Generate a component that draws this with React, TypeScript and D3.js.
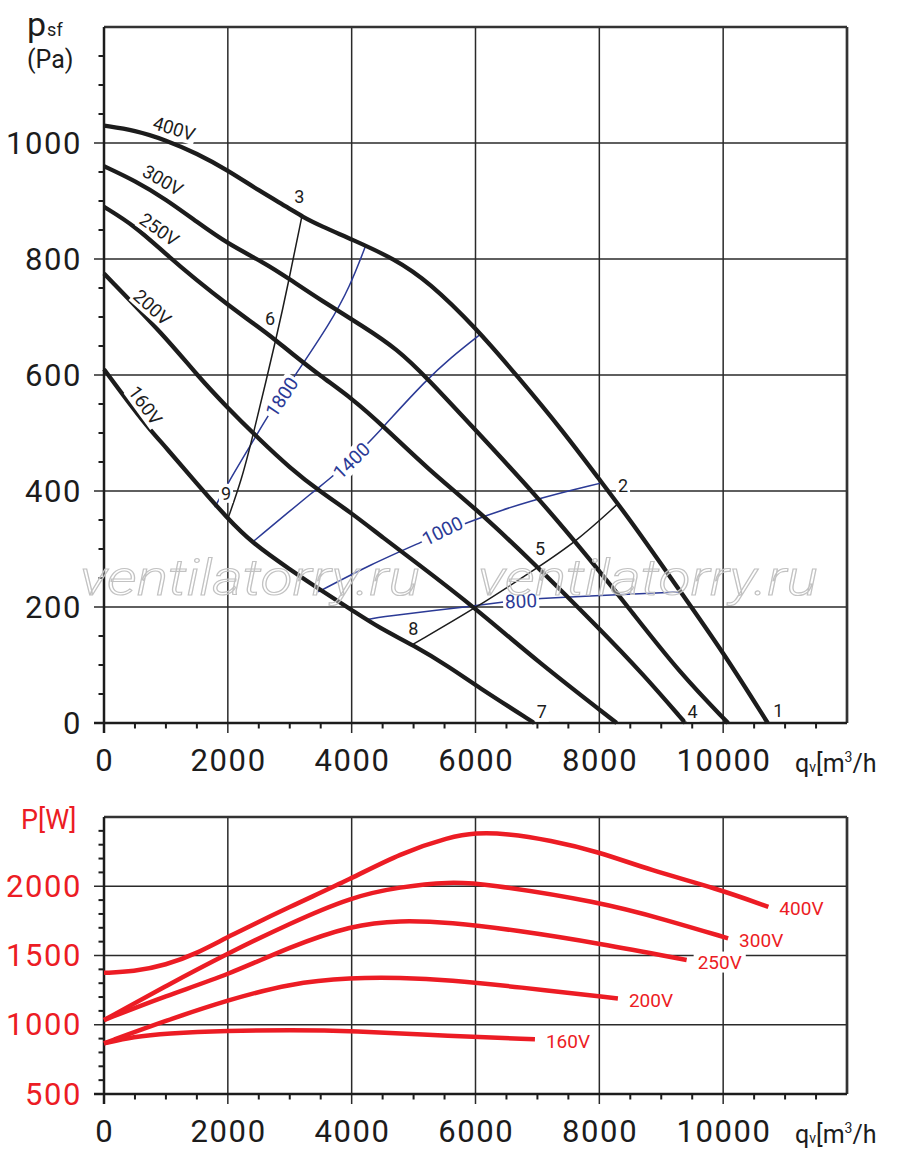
import { useRef, useEffect } from 'react';
import * as d3 from 'd3';

type Pt = [number, number];

// axis ticks
const FLOW_TICKS = [0, 2000, 4000, 6000, 8000, 10000];
const PRESSURE_TICKS = [0, 200, 400, 600, 800, 1000];
const POWER_TICKS = [500, 1000, 1500, 2000];

const VOLTAGES = ['400V', '300V', '250V', '200V', '160V'];

// static pressure psf [Pa] vs flow qv [m3/h]
const psf400: Pt[] = [[0, 1030], [500, 1022], [1000, 1005], [1500, 982], [2000, 953], [2500, 918], [3000, 887], [3200, 873], [3500, 857], [4000, 834], [4700, 800], [5250, 760], [6000, 682], [6700, 595], [7400, 505], [8000, 420], [8500, 350], [9300, 228], [10000, 122], [10720, 0]];
const psf300: Pt[] = [[0, 960], [500, 935], [1000, 903], [1500, 864], [2000, 826], [2600, 793], [3000, 765], [3500, 729], [4200, 683], [4730, 645], [5200, 597], [6000, 505], [7000, 390], [7850, 282], [8500, 195], [9300, 86], [10080, 0]];
const psf250: Pt[] = [[0, 890], [500, 857], [1000, 808], [1500, 763], [2000, 721], [2500, 682], [2750, 662], [3000, 640], [3500, 598], [4000, 560], [4500, 513], [5250, 436], [6000, 370], [6900, 280], [8000, 163], [8700, 85], [9390, 0]];
const psf200: Pt[] = [[0, 775], [1000, 665], [1500, 600], [2000, 543], [2500, 490], [3000, 440], [3500, 398], [4000, 362], [4500, 320], [5000, 280], [6000, 198], [7000, 106], [8280, 0]];
const psf160: Pt[] = [[0, 610], [500, 538], [750, 505], [1000, 475], [1450, 419], [2000, 352], [2400, 310], [3000, 265], [3500, 229], [4000, 195], [4460, 163], [5000, 134], [5600, 95], [6000, 65], [6950, 0]];

// system lines 3-6-9 and 2-5-8
const sys369: Pt[] = [[2000, 352], [2225, 420], [2410, 497], [2815, 678], [2975, 758], [3195, 873]];
const sys258: Pt[] = [[4995, 136], [6000, 198], [6990, 267], [7630, 313], [8280, 376]];

// speed lines [rpm]
const RPM = ['1800', '1400', '1000', '800'];
const rpm1800: Pt[] = [[1790, 372], [2030, 419], [2470, 497], [2630, 527], [3090, 600], [3650, 689], [3970, 752], [4230, 824]];
const rpm1400: Pt[] = [[2400, 312], [3435, 404], [3700, 425], [4296, 485], [4511, 511], [5210, 592], [5590, 629], [6100, 672]];
const rpm1000: Pt[] = [[3460, 226], [4320, 274], [5130, 312], [5800, 344], [6880, 384], [8040, 414]];
const rpm800: Pt[] = [[4240, 178], [4460, 183], [6000, 202], [6470, 209], [6990, 215], [9300, 226]];

// absorbed power P [W]
const pw400: Pt[] = [[0, 1375], [475, 1383], [1000, 1431], [1500, 1515], [2000, 1635], [3000, 1852], [4000, 2056], [4780, 2237], [5590, 2357], [6000, 2386], [6500, 2381], [7200, 2333], [8000, 2248], [8820, 2116], [9900, 1984], [10730, 1851]];
const pw300: Pt[] = [[0, 1034], [1000, 1280], [2000, 1515], [3000, 1732], [4000, 1924], [4780, 1996], [5590, 2032], [6130, 2020], [8000, 1888], [9090, 1756], [10080, 1624]];
const pw250: Pt[] = [[0, 1034], [1000, 1210], [2000, 1359], [3000, 1563], [4000, 1719], [4780, 1755], [5590, 1739], [6650, 1683], [8000, 1587], [9410, 1467]];
const pw200: Pt[] = [[0, 866], [1000, 1030], [2000, 1178], [3000, 1299], [4000, 1340], [4780, 1340], [5590, 1322], [6650, 1274], [8300, 1190]];
const pw160: Pt[] = [[0, 866], [475, 914], [1000, 938], [2000, 957], [3000, 962], [4000, 957], [5590, 918], [6960, 895]];

const pressureCurves = [psf400, psf300, psf250, psf200, psf160];
const powerCurves = [pw400, pw300, pw250, pw200, pw160];
const rpmCurves = [rpm1800, rpm1400, rpm1000, rpm800];

// label layout (data coords + angle)
const curveLabelPos = [
    { q: 1130, p: 1024, a: 17 },
    { q: 948, p: 935, a: 30 },
    { q: 888, p: 850, a: 35 },
    { q: 775, p: 716, a: 42 },
    { q: 662, p: 547, a: 54 },
];
const rpmLabelPos = [
    { q: 2875, p: 562, a: -56 },
    { q: 4000, p: 452, a: -44 },
    { q: 5467, p: 331, a: -26 },
    { q: 6735, p: 210, a: -3 },
];
const pointLabels = [
    { t: '1', q: 10890, p: 22 }, { t: '2', q: 8382, p: 410 }, { t: '3', q: 3154, p: 907 },
    { t: '4', q: 9507, p: 19 }, { t: '5', q: 7041, p: 301 }, { t: '6', q: 2681, p: 698 },
    { t: '7', q: 7069, p: 19 }, { t: '8', q: 4995, p: 163 }, { t: '9', q: 1970, p: 396 },
];

const FONT = "Roboto, 'DejaVu Sans', sans-serif";
const RED = '#ec1c24';
const BLUE = '#2b3a96';
const INK = '#1c1c1c';

export default function App() {
    const svgRef = useRef<SVGSVGElement>(null);

    useEffect(() => {
        if (!svgRef.current) return;
        const svg = d3.select(svgRef.current);
        svg.selectAll('*').remove();

        const x = d3.scaleLinear().domain([0, 12000]).range([104, 847]);
        const yP = d3.scaleLinear().domain([0, 1200]).range([723, 27]);
        const yW = d3.scaleLinear().domain([500, 2500]).range([1094, 817]);

        const drawPanel = (y: d3.ScaleLinear<number, number>, ticks: number[], minorStep: number, color: string) => {
            const g = svg.append('g');
            const [d0, d1] = y.domain();
            const yb = y(d0), yt = y(d1);
            const majorsX = FLOW_TICKS;

            // vertical grid
            g.selectAll('line.vg').data(majorsX.slice(1)).enter().append('line')
                .attr('x1', d => x(d)).attr('x2', d => x(d))
                .attr('y1', yt).attr('y2', yb + 10)
                .attr('stroke', '#2a2a2a').attr('stroke-width', 1.5);
            // horizontal grid
            g.selectAll('line.hg').data(ticks.slice(1)).enter().append('line')
                .attr('x1', 94).attr('x2', x(12000))
                .attr('y1', d => y(d)).attr('y2', d => y(d))
                .attr('stroke', '#2a2a2a').attr('stroke-width', 1.5);
            // minor ticks
            const minorY = d3.range(d0, d1 + 1, minorStep).filter(v => !ticks.includes(v) && v < d1);
            g.selectAll('line.my').data(minorY).enter().append('line')
                .attr('x1', 98.5).attr('x2', 104)
                .attr('y1', d => y(d)).attr('y2', d => y(d))
                .attr('stroke', INK).attr('stroke-width', 2);
            const minorX = d3.range(500, 12000, 500).filter(v => !majorsX.includes(v));
            g.selectAll('line.mx').data(minorX).enter().append('line')
                .attr('x1', d => x(d)).attr('x2', d => x(d))
                .attr('y1', yb).attr('y2', yb + 5.5)
                .attr('stroke', INK).attr('stroke-width', 2);
            // frame
            g.append('line').attr('x1', x(0)).attr('x2', x(12000)).attr('y1', yt).attr('y2', yt)
                .attr('stroke', '#333').attr('stroke-width', 2.5);
            g.append('line').attr('x1', x(12000)).attr('x2', x(12000)).attr('y1', yt).attr('y2', yb)
                .attr('stroke', '#333').attr('stroke-width', 2.7);
            g.append('line').attr('x1', x(0)).attr('x2', x(0)).attr('y1', yt).attr('y2', yb + 10)
                .attr('stroke', INK).attr('stroke-width', 2.5);
            g.append('line').attr('x1', 94).attr('x2', x(12000)).attr('y1', yb).attr('y2', yb)
                .attr('stroke', INK).attr('stroke-width', 2.7);

            // tick labels
            g.selectAll('text.yl').data(ticks).enter().append('text')
                .attr('x', 82).attr('y', d => y(d))
                .attr('text-anchor', 'end').attr('dominant-baseline', 'central')
                .attr('fill', color).style('font-size', '31px').style('font-weight', 400)
                .style('letter-spacing', '1.6px')
                .text(d => d);
            g.selectAll('text.xl').data(majorsX).enter().append('text')
                .attr('x', d => x(d) + 0.8).attr('y', yb + 37)
                .attr('text-anchor', 'middle').attr('dominant-baseline', 'central')
                .attr('fill', INK).style('font-size', '31px').style('font-weight', 400)
                .style('letter-spacing', '1.6px')
                .text(d => d);

            // flow axis title
            const t = g.append('text').attr('x', 795).attr('y', yb + 49)
                .attr('fill', INK).style('font-size', '25px').style('font-weight', 400);
            t.append('tspan').text('q');
            t.append('tspan').style('font-size', '14px').text('v');
            t.append('tspan').text('[m');
            t.append('tspan').style('font-size', '14px').attr('dy', -10).text('3');
            t.append('tspan').attr('dy', 10).text('/h');
            return g;
        };

        const labelBox = (
            parent: d3.Selection<SVGGElement, unknown, null, undefined>,
            txt: string, cx: number, cy: number, angle: number,
            color: string, size: number, anchor: string, pad: number
        ) => {
            const g = parent.append('g').attr('transform', `translate(${cx},${cy}) rotate(${angle})`);
            const rect = g.append('rect').attr('fill', 'white');
            const t = g.append('text')
                .attr('text-anchor', anchor).attr('dominant-baseline', anchor === 'middle' ? 'central' : 'auto')
                .attr('fill', color).style('font-size', `${size}px`).style('font-weight', 400)
                .text(txt);
            const bb = (t.node() as SVGTextElement).getBBox();
            rect.attr('x', bb.x - pad).attr('y', bb.y + 1).attr('width', bb.width + pad * 2).attr('height', bb.height - 2);
        };

        svg.style('font-family', FONT);

        // ---- top panel: pressure
        drawPanel(yP, PRESSURE_TICKS, 50, INK);
        const top = svg.append('g');
        const lineP = d3.line<Pt>().x(d => x(d[0])).y(d => yP(d[1])).curve(d3.curveBasis);

        top.selectAll('path.rpm').data(rpmCurves).enter().append('path')
            .attr('d', d => lineP(d)).attr('fill', 'none')
            .attr('stroke', BLUE).attr('stroke-width', 1.5);
        top.selectAll('path.sys').data([sys369, sys258]).enter().append('path')
            .attr('d', d => lineP(d)).attr('fill', 'none')
            .attr('stroke', INK).attr('stroke-width', 1.5);
        top.selectAll('path.psf').data(pressureCurves).enter().append('path')
            .attr('d', d => lineP(d)).attr('fill', 'none')
            .attr('stroke', INK).attr('stroke-width', 4.3).attr('stroke-linejoin', 'round');

        RPM.forEach((r, i) => {
            const l = rpmLabelPos[i];
            labelBox(top, r, x(l.q), yP(l.p), l.a, BLUE, 19, 'middle', 2);
        });
        VOLTAGES.forEach((v, i) => {
            const l = curveLabelPos[i];
            labelBox(top, v, x(l.q), yP(l.p), l.a, INK, 18.5, 'middle', 1);
        });
        pointLabels.forEach(l => {
            labelBox(top, l.t, x(l.q), yP(l.p), 0, INK, 18, 'middle', 2);
        });

        // watermark
        [80, 478].forEach(wx => {
            svg.append('text').attr('x', wx).attr('y', 595)
                .attr('textLength', 340).attr('lengthAdjust', 'spacingAndGlyphs')
                .attr('fill', 'rgba(255,255,255,0.35)').attr('stroke', '#c2c2c2').attr('stroke-width', 1.1)
                .style('font-size', '50px').style('font-style', 'italic').style('font-weight', 300)
                .text('ventilatorry.ru');
        });

        // pressure axis title
        const pt = svg.append('text').attr('x', 27).attr('y', 36).attr('fill', INK).style('font-weight', 400);
        pt.append('tspan').style('font-size', '34px').text('p');
        pt.append('tspan').style('font-size', '18px').attr('dx', 1).text('sf');
        svg.append('text').attr('x', 27).attr('y', 68).attr('fill', INK)
            .style('font-size', '25px').style('font-weight', 400).text('(Pa)');

        // ---- bottom panel: power
        drawPanel(yW, POWER_TICKS, 100, RED);
        const bot = svg.append('g');
        const lineW = d3.line<Pt>().x(d => x(d[0])).y(d => yW(d[1])).curve(d3.curveBasis);
        bot.selectAll('path.pw').data(powerCurves).enter().append('path')
            .attr('d', d => lineW(d)).attr('fill', 'none')
            .attr('stroke', RED).attr('stroke-width', 4.5);
        VOLTAGES.forEach((v, i) => {
            const last = powerCurves[i][powerCurves[i].length - 1];
            labelBox(bot, v, x(last[0]) + 11, yW(last[1]) + 8.5, 0, RED, 19, 'start', 4);
        });

        svg.append('text').attr('x', 21).attr('y', 829).attr('fill', RED)
            .style('font-size', '27px').style('font-weight', 400).text('P[W]');
    }, []);

    return (
        <svg
            ref={svgRef}
            width={900}
            height={1159}
            style={{ position: 'absolute', left: 0, top: 0, background: 'white' }}
        />
    );
}
